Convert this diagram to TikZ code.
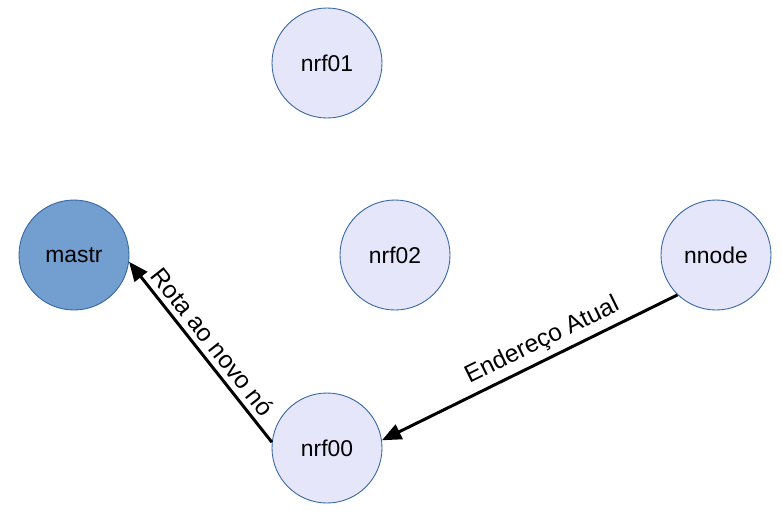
\documentclass[tikz,border=0pt]{standalone}
\usepackage{fontspec}
\setmainfont{Liberation Sans}
\usetikzlibrary{arrows.meta, positioning}
\definecolor{nodefill}{RGB}{230,230,250}
\definecolor{mastrfill}{RGB}{114,159,207}
\definecolor{nodeline}{RGB}{52,101,164}
\tikzset{
    % plain radio node, light lavender disc
    radio/.style={circle, draw=nodeline, line width=0.5pt, fill=nodefill,
                  minimum size=2.2cm, inner sep=0pt, font=\fontsize{13}{15}\selectfont},
    % master node, darker blue
    master/.style={radio, fill=mastrfill},
    % message edges
    msg/.style={-{Triangle[length=11pt, width=9pt]}, line width=1.7pt},
    % text sitting on a message edge
    msglabel/.style={sloped, above, inner sep=3pt, font=\fontsize{14}{16}\selectfont},
}

\begin{document}
\begin{tikzpicture}

    \useasboundingbox (0,0) rectangle (15.64,-10.58);

    % ---- nodes ----
    \node[radio]  (nrf01) at (6.54,-1.26)  {nrf01};
    \node[master] (mastr) at (1.48,-5.10)  {mastr};
    \node[radio]  (nrf02) at (7.90,-5.10)  {nrf02};
    \node[radio]  (nnode) at (14.32,-5.10) {nnode};
    \node[radio]  (nrf00) at (6.54,-8.96)  {nrf00};

    % ---- messages ----
    \draw[msg] (nnode.226) -- (nrf00.8)
        node[msglabel, pos=0.43] {Endereço Atual};
    \draw[msg] (nrf00.174) -- (mastr.-7)
        node[msglabel, midway] {Rota ao novo nó};

\end{tikzpicture}
\end{document}
